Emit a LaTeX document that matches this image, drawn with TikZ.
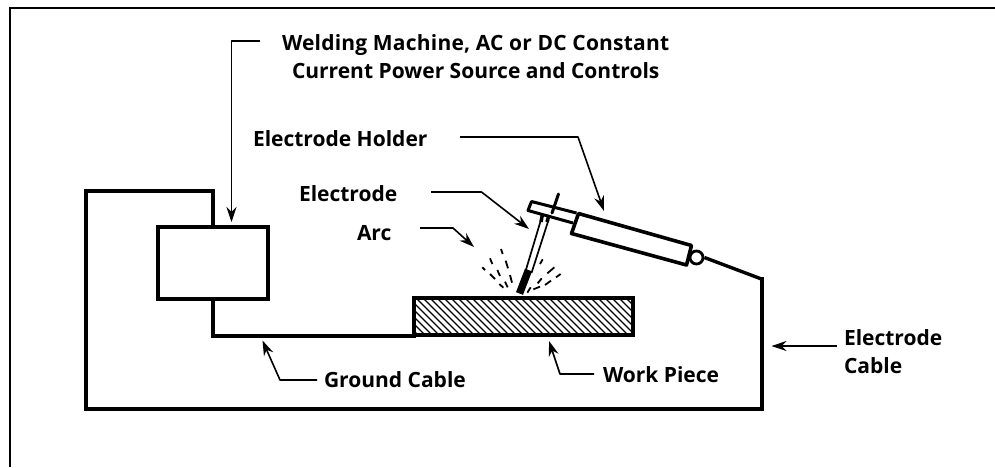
\documentclass[tikz,border=0pt]{standalone}
\usepackage{fontspec}
\setmainfont{Open Sans}
\usetikzlibrary{arrows.meta}
\tikzset{
  wire/.style={line width=4pt,line join=miter,line cap=rect},
  thinwire/.style={line width=3.2pt,line join=miter,line cap=rect},
  part/.style={draw,line width=3.8pt,fill=none,inner sep=0pt,outer sep=0pt,minimum width=#1},
  leader/.style={line width=1.6pt,-{Stealth[length=15pt,width=10pt]},line join=round},
  lbl/.style={anchor=base west,inner sep=0pt,outer sep=0pt,font=\fontsize{21pt}{27.5pt}\selectfont\bfseries,align=left},
  spark/.style={line width=1.8pt},
  edge/.style={line width=2.6pt},
  hatch/.style={line width=1.3pt}
}
\begin{document}
\begin{tikzpicture}[x=1pt,y=-1pt]
\useasboundingbox (0,0) rectangle (995,467);
% frame
\draw[edge] (10,467) -- (10,8) -- (995,8);
% parts
\node[part=110.5pt,minimum height=72.5pt] (machine) at (213,263) {};
\node[part=219pt,minimum height=37pt] (work) at (523.5,316.5) {};
% hatching
\begin{scope}
\clip (work.south west) rectangle (work.north east);
\foreach \i in {0,1,...,38}{
  \draw[hatch] (372+\i*7,296) -- ++(42,42);
}
\end{scope}
\node[part=110.5pt,minimum height=72.5pt] at (machine) {};
\node[part=219pt,minimum height=37pt] at (work) {};
% cables
\coordinate (topL) at (86,191);
\coordinate (botL) at (86,409);
\coordinate (botR) at (761.5,409);
\coordinate (bend) at (761.5,279);
\coordinate (groundC) at (213,336);
\coordinate (ballC) at (696.5,257.5);
\node[circle,draw,line width=2.8pt,minimum size=13pt,inner sep=0pt] (ball) at (ballC) {};
\draw[wire] (machine.north) -- (machine.north |- topL) -- (topL) -- (botL) -- (botR) -- (bend);
\draw[line width=3.4pt] (bend) -- (ball.east);
\draw[thinwire] (machine.south) -- (groundC) -- (work.west |- groundC);
% holder
\draw[line width=3.6pt,line join=round] (578.5,213.5) -- (691.5,245.5) -- (686.5,265) -- (571.5,233.5) -- cycle;
\draw[line width=3pt,line join=round] (576.5,213) -- (531.5,201.5) -- (528,210.5) -- (573,223);
\draw[line width=3pt,line cap=round] (558.5,194) -- (552,213);
% electrode
\draw[line width=1.7pt] (541.5,218) -- (525,273) (548.5,220) -- (531.5,273);
\draw[line width=3.5pt] (542.5,214) -- (541,222) (549,215) -- (547,222);
\draw[line width=7.5pt] (528.5,270) -- (519.5,293.5);
% sparks
\foreach \ax/\ay/\bx/\by in {
 183/237/188/252,150/265/157/282,197/272/204/295,127/292/135/300,172/300/180/318,
 150/312/165/327,210/315/216/338,178/342/190/353,195/335/203/352,
 308/268/300/282,343/292/322/310,362/312/348/322,305/325/293/340,333/332/315/345,
 300/350/280/358,272/352/262/368}{
  \draw[spark] (440+\ax/3,170+\ay/3) -- (440+\bx/3,170+\by/3);
}
% labels
\node[lbl] (lweld) at (282,78) {{\addfontfeature{LetterSpace=1}Welding Machine, AC or DC Constant}\\\hspace*{10pt}Current Power Source and Controls};
\node[lbl] (lhold) at (253,146) {Electrode Holder};
\node[lbl] (lelec) at (299,201) {Electrode};
\node[lbl] (larc) at (357,240) {Arc};
\node[lbl] (lground) at (324,387) {Ground Cable};
\node[lbl] (lpiece) at (603,382) {Work Piece};
\node[lbl] (lcable) at (844,373) {Electrode\\Cable};
% leader anchors
\coordinate (w0) at (260,41); \coordinate (w1) at (231.5,41); \coordinate (w2) at (231.5,222);
\coordinate (h0) at (460,137); \coordinate (h1) at (578,137); \coordinate (h2) at (604,211);
\coordinate (e0) at (431,192); \coordinate (e1) at (481.5,192); \coordinate (e2) at (529,229);
\coordinate (a0) at (420,228); \coordinate (a1) at (453,228); \coordinate (a2) at (474,247);
\coordinate (g0) at (317,380); \coordinate (g1) at (280,380); \coordinate (g2) at (262.5,340.5);
\coordinate (p0) at (594,374); \coordinate (p1) at (560,374); \coordinate (p2) at (549,341);
\coordinate (c0) at (837,346); \coordinate (c2) at (771.5,346);
\draw[leader,line width=1.2pt] (w0) -- (w1) -- (w2);
\draw[leader] (h0) -- (h1) -- (h2);
\draw[leader] (e0) -- (e1) -- (e2);
\draw[leader] (a0) -- (a1) -- (a2);
\draw[leader] (g0) -- (g1) -- (g2);
\draw[leader] (p0) -- (p1) -- (p2);
\draw[leader] (c0) -- (c2);
\end{tikzpicture}
\end{document}
